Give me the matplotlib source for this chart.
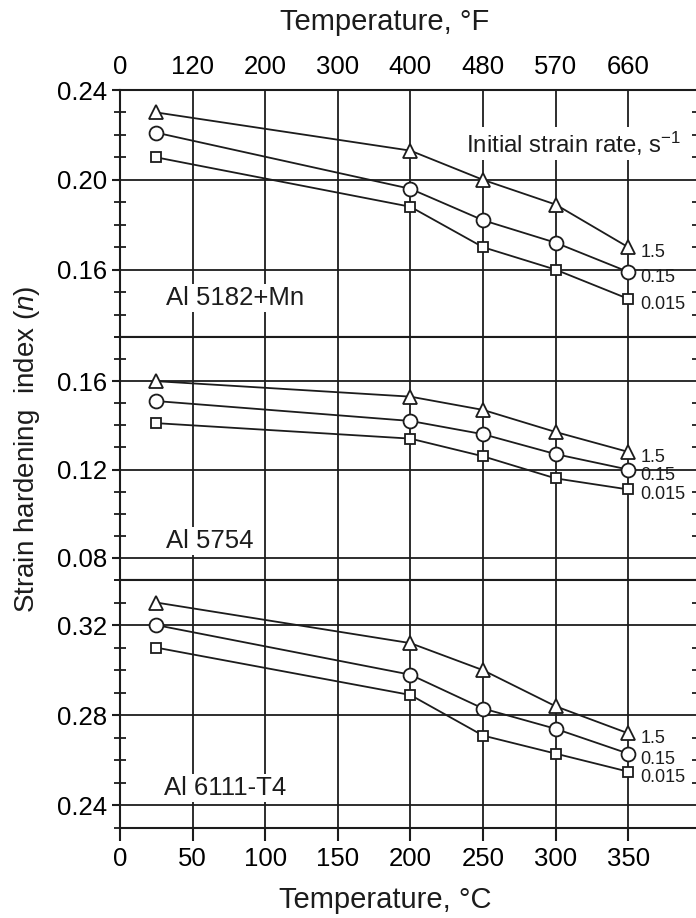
import numpy as np;
import matplotlib;
matplotlib.use('Agg');
import matplotlib.pyplot as plt;

plt.rcParams['font.family']=['Liberation Sans','DejaVu Sans'];
plt.rcParams['mathtext.fontset']='custom';
plt.rcParams['mathtext.rm']='Liberation Sans';
plt.rcParams['mathtext.it']='Liberation Sans:italic';

#test temperatures (deg C) and the axis labels
tempC=[25,200,250,300,350];
tickC=[0,50,100,150,200,250,300,350];
tickF=['0','120','200','300','400','480','570','660'];

#initial strain rates, s^-1, with their markers
rateLabels=['1.5','0.15','0.015'];
rateMarkers=['^','o','s'];

alloyNames=['Al 5182+Mn','Al 5754','Al 6111-T4'];

#strain hardening index n, one row per strain rate (1.5, 0.15, 0.015)
n5182=[[0.230,0.213,0.200,0.189,0.170],
       [0.221,0.196,0.182,0.172,0.159],
       [0.210,0.188,0.170,0.160,0.147]];
n5754=[[0.160,0.153,0.147,0.137,0.128],
       [0.151,0.142,0.136,0.127,0.120],
       [0.141,0.134,0.126,0.116,0.111]];
n6111=[[0.330,0.312,0.300,0.284,0.272],
       [0.320,0.298,0.283,0.274,0.263],
       [0.310,0.289,0.271,0.263,0.255]];
allData=[n5182,n5754,n6111];

#panel ranges and labelled ticks
yRanges=[(0.13,0.24),(0.07,0.18),(0.23,0.34)];
yMajors=[[0.16,0.20,0.24],[0.08,0.12,0.16],[0.24,0.28,0.32]];
namePos=[(32,0.1474),(32,0.0876),(30,0.2476)];

ink='#1c1c1c';
fig=plt.figure(figsize=(6.96,9.18),dpi=100);

#three stacked panels sharing the temperature axis, right edge runs off the page
left=120/696; right=698/696; width=right-left;
edges=[90,337,580,828];
axes=[];
for k in range(3):
    top=1-edges[k]/918;
    bot=1-edges[k+1]/918;
    ax=fig.add_axes([left,bot,width,top-bot]);
    axes.append(ax);

xMax=(698-120)/72.6*50;

for k,ax in enumerate(axes):
    lo,hi=yRanges[k];
    ax.set_xlim(0,xMax);
    ax.set_ylim(lo,hi);
    ax.set_xticks(tickC);
    ax.set_yticks(yMajors[k]);
    ax.set_yticklabels(['%.2f'%v for v in yMajors[k]]);
    ax.set_yticks(np.round(np.arange(lo,hi+0.0001,0.01),3),minor=True);
    ax.grid(True,which='major',color=ink,linewidth=1.3,zorder=1);
    for s in ax.spines.values():
        s.set_linewidth(1.5);
        s.set_color(ink);
    ax.tick_params(axis='y',which='major',direction='out',length=6,width=1.5,
                   color=ink,labelsize=18.5,pad=3,left=True,right=False);
    ax.tick_params(axis='y',which='minor',direction='inout',length=8,width=1.3,
                   color=ink,left=True,right=True);
    if k<2:
        ax.tick_params(axis='x',length=0,labelbottom=False);
    else:
        ax.tick_params(axis='x',direction='out',length=9,width=1.5,color=ink,
                       labelsize=18.5,pad=5);

    #one line per strain rate, open markers
    for j,vals in enumerate(allData[k]):
        ms=10.5 if rateMarkers[j]=='^' else (10 if rateMarkers[j]=='o' else 7.5);
        ax.plot(tempC,vals,marker=rateMarkers[j],ms=ms,mfc='white',mec=ink,mew=1.3,
                color=ink,lw=1.3,zorder=3,clip_on=False);
        ax.annotate(rateLabels[j],(tempC[-1],vals[-1]),xytext=(9,-4),
                    textcoords='offset points',fontsize=13,va='center',ha='left',
                    color=ink,zorder=4);

    ax.text(namePos[k][0],namePos[k][1],alloyNames[k],fontsize=18.5,va='center',ha='left',
            color=ink,zorder=4,bbox=dict(facecolor='white',edgecolor='none',pad=1.5));

axes[0].text(238,0.2162,r'Initial strain rate, s$^{-1}$',fontsize=17.3,va='center',ha='left',
             color=ink,zorder=4,bbox=dict(facecolor='white',edgecolor='none',pad=1.5));

#Fahrenheit labels along the top
axTop=axes[0].twiny();
axTop.set_xlim(0,xMax);
axTop.set_xticks(tickC);
axTop.set_xticklabels(tickF);
axTop.tick_params(axis='x',length=0,labelsize=18.5,pad=8);
for s in axTop.spines.values():
    s.set_visible(False);

fig.text(385/696,1-22/918,'Temperature, \u00b0F',fontsize=21,ha='center',va='center',color=ink);
fig.text(385/696,1-900/918,'Temperature, \u00b0C',fontsize=21,ha='center',va='center',color=ink);
fig.text(27/696,1-449/918,r'Strain hardening  index ($\it{n}$)',fontsize=20,rotation=90,
         ha='center',va='center',color=ink);

plt.savefig('out.png',dpi=100);
